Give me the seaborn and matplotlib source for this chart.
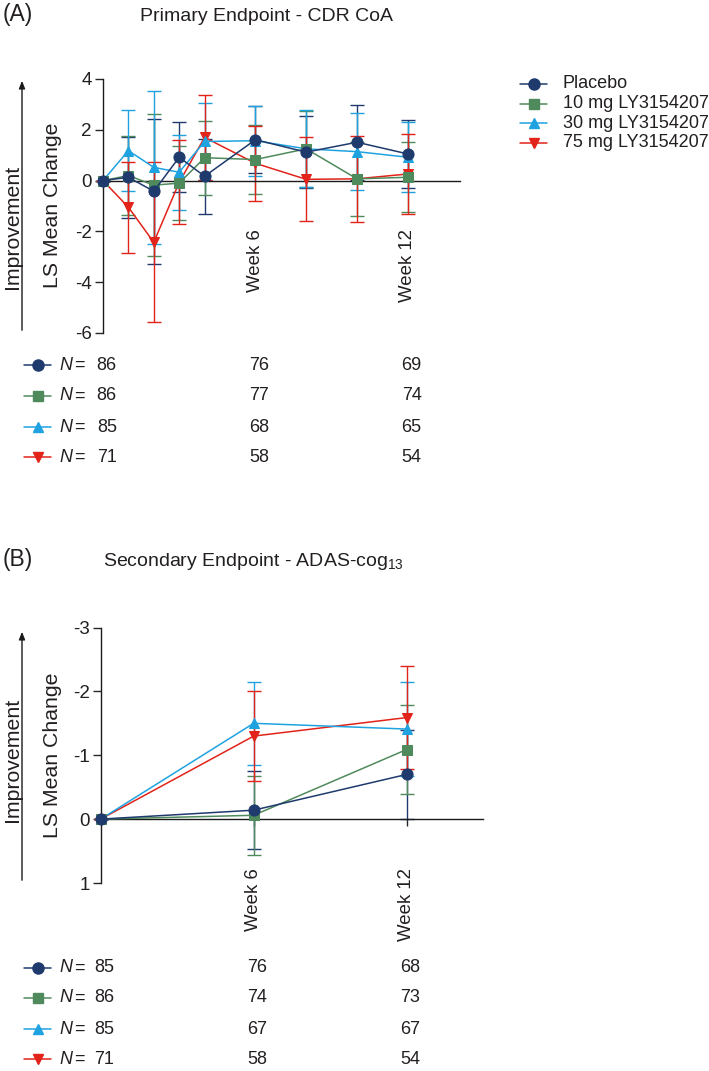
import numpy as np
import pandas as pd
import matplotlib
matplotlib.use("Agg")
import matplotlib.pyplot as plt
import matplotlib.transforms as mtransforms
from matplotlib.lines import Line2D
import seaborn as sns

sns.set_style("ticks")
plt.rcParams['font.family'] = ['Liberation Sans', 'DejaVu Sans']
plt.rcParams['mathtext.fontset'] = 'custom'
plt.rcParams['mathtext.rm'] = 'Liberation Sans'
plt.rcParams['mathtext.it'] = 'Liberation Sans:italic'

TXT = "#231f20"

# --------------------------------------------------
# data
# --------------------------------------------------
groups = ["Placebo", "10 mg LY3154207", "30 mg LY3154207", "75 mg LY3154207"]
colors = ["#1f3a6d", "#4f8a5c", "#1fa3e0", "#e2231a"]
markers = ["o", "s", "^", "v"]
msizes = [8, 7, 7.5, 7.5]

# (A) CDR CoA
weeks_a = [0, 1, 2, 3, 4, 6, 8, 10, 12]
placebo_a = [0, 0.13, -0.42, 0.92, 0.17, 1.61, 1.12, 1.51, 1.05]
mg10_a = [0, 0.20, -0.18, -0.10, 0.90, 0.83, 1.25, 0.07, 0.13]
mg30_a = [0, 1.18, 0.52, 0.33, 1.54, 1.57, 1.25, 1.14, 0.92]
mg75_a = [0, -1.05, -2.43, -0.07, 1.70, 0.68, 0.05, 0.07, 0.26]
placebo_a_err = [0, 1.60, 2.86, 1.38, 1.48, 1.33, 1.42, 1.47, 1.33]
mg10_a_err = [0, 1.55, 2.80, 1.47, 1.46, 1.35, 1.50, 1.45, 1.38]
mg30_a_err = [0, 1.60, 3.00, 1.48, 1.50, 1.38, 1.52, 1.52, 1.38]
mg75_a_err = [0, 1.80, 3.15, 1.65, 1.67, 1.47, 1.66, 1.70, 1.56]

# (B) ADAS-cog13
weeks_b = [0, 6, 12]
placebo_b = [0, -0.14, -0.70]
mg10_b = [0, -0.06, -1.09]
mg30_b = [0, -1.50, -1.41]
mg75_b = [0, -1.30, -1.59]
placebo_b_err = [0, 0.61, 0.70]
mg10_b_err = [0, 0.62, 0.70]
mg30_b_err = [0, 0.65, 0.73]
mg75_b_err = [0, 0.70, 0.80]

# patient numbers
n_weeks = [0, 6, 12]
n_a = [[86, 76, 69], [86, 77, 74], [85, 68, 65], [71, 58, 54]]
n_b = [[85, 76, 68], [86, 74, 73], [85, 67, 67], [71, 58, 54]]

W, H = 709, 1071
fig = plt.figure(figsize=(W / 100, H / 100), dpi=100)


def fx(px):
    return px / W


def fy(py):
    return 1 - py / H


def draw_panel(ax, weeks, series, errs):
    # draw from last group to first so placebo sits on top
    for i in reversed(range(len(groups))):
        df = pd.DataFrame({"week": weeks, "value": series[i]})
        ax.errorbar(weeks, series[i], yerr=errs[i], fmt="none",
                    ecolor=colors[i], elinewidth=1.0, capsize=5,
                    capthick=1.0, zorder=2 + i * 0.01, clip_on=False)
        sns.lineplot(data=df, x="week", y="value", ax=ax, color=colors[i],
                     marker=markers[i], markersize=msizes[i],
                     markeredgecolor=colors[i], linewidth=1.1,
                     legend=False, zorder=3 + (3 - i) * 0.1)
    for art in ax.lines + ax.collections:
        art.set_clip_on(False)
    ax.spines["top"].set_visible(False)
    ax.spines["right"].set_visible(False)
    ax.spines["bottom"].set_position(("data", 0))
    for s in ["left", "bottom"]:
        ax.spines[s].set_linewidth(1.0)
        ax.spines[s].set_color("#1a1a1a")
    ax.set_xlabel("")
    ax.set_ylabel("")
    ax.tick_params(axis="y", direction="out", length=6, width=1.0,
                   pad=2, labelsize=13.5, labelcolor=TXT)


def n_table(ax, rows_y, counts):
    trans = mtransforms.blended_transform_factory(ax.transData, fig.transFigure)
    for i, y in enumerate(rows_y):
        fig.add_artist(Line2D([fx(24), fx(51)], [fy(y), fy(y)], color=colors[i],
                              lw=1.1, transform=fig.transFigure))
        fig.add_artist(Line2D([fx(37.5)], [fy(y)], marker=markers[i],
                              markersize=msizes[i], color=colors[i],
                              transform=fig.transFigure))
        fig.text(fx(59), fy(y), "N", style="italic", fontsize=13,
                 va="center", ha="left", color=TXT)
        fig.text(fx(74), fy(y), "=", fontsize=13, va="center", ha="left", color=TXT)
        for wk, n in zip(n_weeks, counts[i]):
            ax.text(wk + 0.15, fy(y), str(n), transform=trans, fontsize=13,
                    va="center", ha="center", color=TXT)


def side_labels(y_top, y_bot, lab_y, imp_y):
    fig.add_artist(plt.Annotation("", xy=(fx(22), fy(y_top)), xycoords="figure fraction",
                                  xytext=(fx(22), fy(y_bot)), textcoords="figure fraction",
                                  arrowprops=dict(arrowstyle="-|>,head_length=0.45,head_width=0.18",
                                                  color="#1a1a1a", lw=1.0)))
    fig.text(fx(12), fy(imp_y), "Improvement", rotation=90, fontsize=15.3,
             va="center", ha="center", color=TXT)
    fig.text(fx(53), fy(lab_y), "LS Mean Change", rotation=90, fontsize=15.3,
             va="center", ha="center", color=TXT)


# --------------------------------------------------
# Panel A
# --------------------------------------------------
ax_a = fig.add_axes([fx(103), fy(333), fx(357), 254 / H])
draw_panel(ax_a, weeks_a, [placebo_a, mg10_a, mg30_a, mg75_a],
           [placebo_a_err, mg10_a_err, mg30_a_err, mg75_a_err])
ax_a.set_xlim(0, 357 / 25.4)
ax_a.set_ylim(-6, 4)
ax_a.set_yticks([-6, -4, -2, 0, 2, 4])
ax_a.set_yticklabels(["-6", "-4", "-2", "0", "2", "4"])
ax_a.set_xticks([])
for wk, lab in [(6, "Week 6"), (12, "Week 12")]:
    ax_a.text(wk, -1.9, lab, rotation=90, ha="center", va="top",
              fontsize=13.4, color=TXT)

fig.text(fx(3), fy(21), "(A)", fontsize=16.5, va="baseline", ha="left", color=TXT)
fig.text(fx(140), fy(21), "Primary Endpoint - CDR CoA", fontsize=14,
         va="baseline", ha="left", color=TXT)
side_labels(78, 333, 205, 227)

# legend
for i, (g, y) in enumerate(zip(groups, [84, 103.5, 123, 142.5])):
    fig.add_artist(Line2D([fx(520), fx(547)], [fy(y), fy(y)], color=colors[i],
                          lw=1.1, transform=fig.transFigure))
    fig.add_artist(Line2D([fx(533.5)], [fy(y)], marker=markers[i],
                          markersize=msizes[i], color=colors[i],
                          transform=fig.transFigure))
    fig.text(fx(563), fy(y), g, fontsize=13, va="center", ha="left", color=TXT)

n_table(ax_a, [365, 396, 427, 457], n_a)

# --------------------------------------------------
# Panel B
# --------------------------------------------------
ax_b = fig.add_axes([fx(100.7), fy(883), fx(382.3), 255.5 / H])
draw_panel(ax_b, weeks_b, [placebo_b, mg10_b, mg30_b, mg75_b],
           [placebo_b_err, mg10_b_err, mg30_b_err, mg75_b_err])
ax_b.set_xlim(0, 382.3 / 25.5)
ax_b.set_ylim(1, -3)
ax_b.set_yticks([1, 0, -1, -2, -3])
ax_b.set_yticklabels(["1", "0", "-1", "-2", "-3"])
ax_b.set_xticks([6, 12])
ax_b.set_xticklabels([])
ax_b.tick_params(axis="x", direction="out", length=5, width=1.0)
for wk, lab in [(6, "Week 6"), (12, "Week 12")]:
    ax_b.text(wk, 0.76, lab, rotation=90, ha="center", va="top",
              fontsize=13.4, color=TXT)

fig.text(fx(3), fy(566), "(B)", fontsize=16.5, va="baseline", ha="left", color=TXT)
fig.text(fx(103), fy(566), r"Secondary Endpoint - ADAS-cog$_{\mathrm{13}}$",
         fontsize=14, va="baseline", ha="left", color=TXT)
side_labels(629, 883, 755, 760)

n_table(ax_b, [968, 998, 1029, 1059], n_b)

fig.savefig("out.png", dpi=100)
